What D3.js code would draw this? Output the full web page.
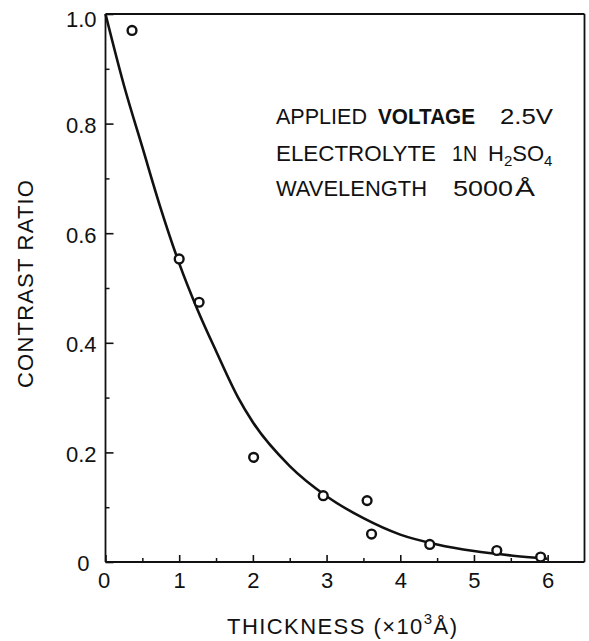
<!DOCTYPE html>
<html>
<head>
<meta charset="utf-8">
<script src="https://cdn.jsdelivr.net/npm/d3@7"></script>
<style>
  html, body { margin: 0; padding: 0; background: #fff; }
  svg { display: block; }
  text { font-family: "Liberation Sans", Arial, sans-serif; fill: #111; }
</style>
</head>
<body>
<svg id="chart" width="589" height="641"></svg>
<script>
// ---- data ----
const pointX = [0.36, 1.00, 1.27, 2.01, 2.955, 3.55, 3.61, 4.40, 5.31, 5.905];
const pointY = [0.97, 0.553, 0.474, 0.191, 0.121, 0.112, 0.051, 0.032, 0.021, 0.009];

const curveX = [0, 0.25, 0.5, 0.75, 1.0, 1.25, 1.5, 1.8, 2.0, 2.5, 3.0, 3.5, 4.0, 4.5, 5.0, 5.5, 6.0];
const curveY = [1.0, 0.87, 0.757, 0.645, 0.545, 0.46, 0.385, 0.30, 0.255, 0.175, 0.12, 0.08, 0.05, 0.032, 0.02, 0.012, 0.006];

const xTicks = [0, 1, 2, 3, 4, 5, 6];
const xMinor = [0.5, 1.5, 2.5, 3.5, 4.5, 5.5];
const yTicks = [0, 0.2, 0.4, 0.6, 0.8, 1.0];
const yMinor = [0.1, 0.3, 0.5, 0.7, 0.9];
const yTickLabels = ["0", "0.2", "0.4", "0.6", "0.8", "1.0"];

const xTitle = "THICKNESS (×10";
const xTitleSup = "3";
const xTitleEnd = "Å)";
const yTitle = "CONTRAST RATIO";

const noteLine1 = ["APPLIED", "VOLTAGE", "2.5V"];
const noteLine2 = ["ELECTROLYTE", "1N"];
const noteLine3 = ["WAVELENGTH", "5000", "Å"];

// ---- drawing ----
(function () {
const svg = d3.select("#chart");
const mLeft = 105.5, mRight = 584.5, mTop = 14, mBottom = 562;

const x = d3.scaleLinear().domain([0, 6.5]).range([mLeft, mRight]);
const y = d3.scaleLinear().domain([0, 1]).range([mBottom, mTop]);

const axisStroke = 1.8;

// frame top/right
svg.append("line").attr("x1", mLeft).attr("x2", mRight).attr("y1", mTop).attr("y2", mTop)
  .attr("stroke", "#111").attr("stroke-width", axisStroke);
svg.append("line").attr("x1", mRight).attr("x2", mRight).attr("y1", mTop).attr("y2", mBottom)
  .attr("stroke", "#111").attr("stroke-width", axisStroke);

// minor ticks
svg.append("g").attr("transform", `translate(0,${mBottom})`)
  .call(d3.axisBottom(x).tickValues(xMinor).tickSize(-4).tickFormat(""))
  .call(g => g.select(".domain").remove())
  .call(g => g.selectAll("line").attr("stroke", "#111").attr("stroke-width", 1.5));
svg.append("g").attr("transform", `translate(${mLeft},0)`)
  .call(d3.axisLeft(y).tickValues(yMinor).tickSize(-4).tickFormat(""))
  .call(g => g.select(".domain").remove())
  .call(g => g.selectAll("line").attr("stroke", "#111").attr("stroke-width", 1.5));

// major axes
const gx = svg.append("g").attr("transform", `translate(0,${mBottom})`)
  .call(d3.axisBottom(x).tickValues(xTicks).tickSize(-7).tickSizeOuter(0).tickPadding(12).tickFormat(d3.format("d")));
gx.select(".domain").attr("stroke", "#111").attr("stroke-width", axisStroke).attr("d", `M${mLeft},0H${mRight}`);
gx.selectAll("line").attr("stroke", "#111").attr("stroke-width", 1.6);
gx.selectAll("text").attr("font-size", 22).attr("fill", "#111").attr("dy", "0.72em").attr("y", 10);
gx.selectAll(".tick").filter(d => d === 0).select("text").attr("dx", -2);

const gy = svg.append("g").attr("transform", `translate(${mLeft},0)`)
  .call(d3.axisLeft(y).tickValues(yTicks).tickSize(-8).tickSizeOuter(0).tickPadding(9)
    .tickFormat((d, i) => yTickLabels[i]));
gy.select(".domain").attr("stroke", "#111").attr("stroke-width", axisStroke).attr("d", `M0,${mBottom}V${mTop}`);
gy.selectAll("line").attr("stroke", "#111").attr("stroke-width", 1.6);
gy.selectAll("text").attr("font-size", 22).attr("fill", "#111").attr("dy", "0.40em");
gy.selectAll(".tick").filter(d => d === 0).select("text").attr("x", -16);
gy.selectAll(".tick").filter(d => d === 1).select("text").attr("dy", "0.55em");

// curve
const curveData = curveX.map((d, i) => [d, curveY[i]]);
svg.append("path")
  .datum(curveData)
  .attr("fill", "none")
  .attr("stroke", "#111")
  .attr("stroke-width", 2.6)
  .attr("d", d3.line().x(d => x(d[0])).y(d => y(d[1])).curve(d3.curveMonotoneX));

// points
svg.append("g").selectAll("circle")
  .data(pointX.map((d, i) => [d, pointY[i]]))
  .join("circle")
  .attr("cx", d => x(d[0]))
  .attr("cy", d => y(d[1]))
  .attr("r", 4.4)
  .attr("fill", "#fff")
  .attr("stroke", "#111")
  .attr("stroke-width", 2.4);

// axis titles
const xt = svg.append("text").attr("x", 227).attr("y", 634).attr("font-size", 22)
  .attr("textLength", 230).attr("lengthAdjust", "spacing");
xt.append("tspan").text(xTitle);
xt.append("tspan").attr("font-size", 15).attr("dy", -10).text(xTitleSup);
xt.append("tspan").attr("dy", 10).text(xTitleEnd);

svg.append("text")
  .attr("transform", "translate(33,284) rotate(-90)")
  .attr("text-anchor", "middle")
  .attr("font-size", 22)
  .attr("textLength", 208).attr("lengthAdjust", "spacing")
  .text(yTitle);

// annotation
function word(txt, x0, yb, w, opts = {}) {
  return svg.append("text").attr("x", x0).attr("y", yb).attr("font-size", opts.size || 22)
    .attr("textLength", w).attr("lengthAdjust", "spacingAndGlyphs")
    .attr("font-weight", opts.bold ? "bold" : "normal")
    .text(txt);
}
word(noteLine1[0], 276, 124, 91);
word(noteLine1[1], 378, 124, 97, { bold: true });
word(noteLine1[2], 500, 124, 53);
word(noteLine2[0], 276, 161, 160);
word(noteLine2[1], 452, 161, 25);
const h = svg.append("text").attr("x", 488).attr("y", 161).attr("font-size", 22);
h.append("tspan").text("H");
h.append("tspan").attr("font-size", 15).attr("dy", 5).text("2");
h.append("tspan").attr("dy", -5).text("SO");
h.append("tspan").attr("font-size", 15).attr("dy", 5).text("4");
word(noteLine3[0], 276, 196, 151);
word(noteLine3[1], 453, 196, 60);
word(noteLine3[2], 515, 196, 20);
})();
</script>
</body>
</html>
